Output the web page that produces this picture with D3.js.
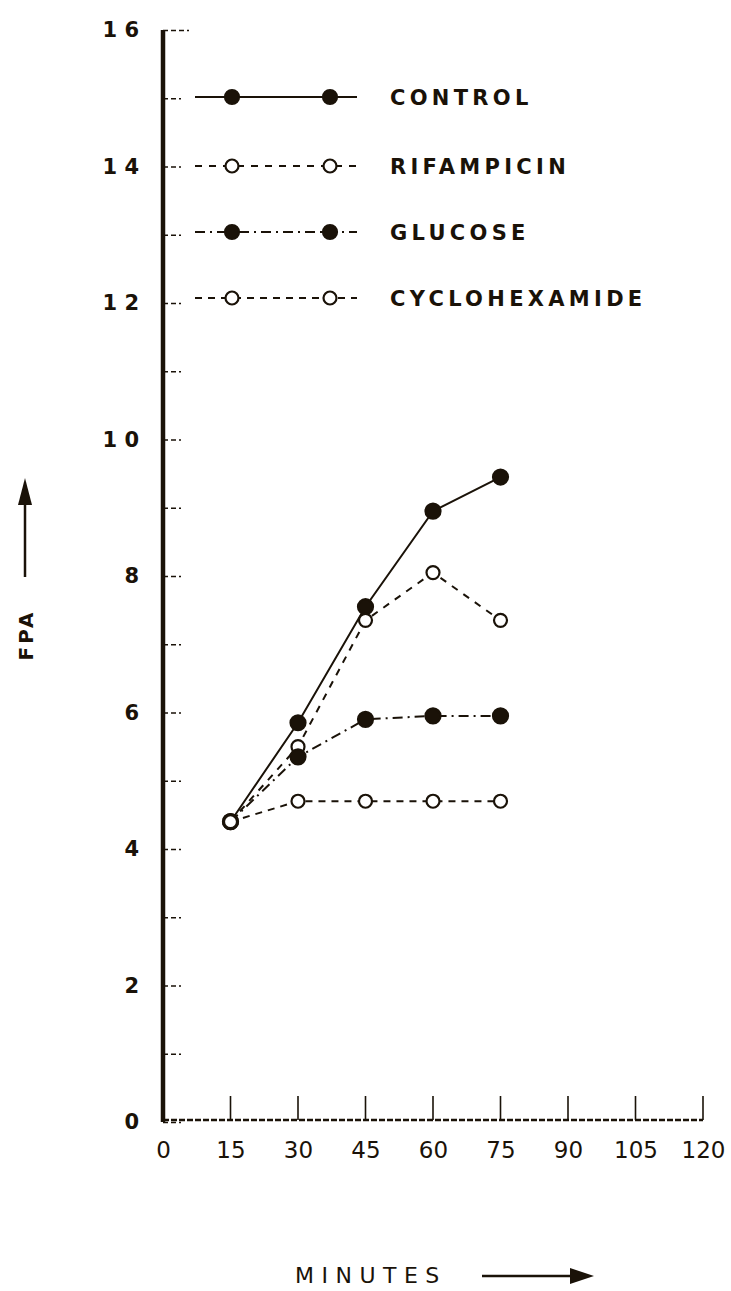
<!DOCTYPE html>
<html>
<head>
<meta charset="utf-8">
<script src="https://cdn.jsdelivr.net/npm/d3@7"></script>
<style>
  body { margin: 0; background: #fff; }
  text { font-family: "DejaVu Sans", sans-serif; fill: #1a1208; }
</style>
</head>
<body>
<div id="chart"></div>
<script>
const minutes = [15, 30, 45, 60, 75];
const control = [4.4, 5.85, 7.55, 8.95, 9.45];
const rifampicin = [4.4, 5.5, 7.35, 8.05, 7.35];
const glucose = [4.4, 5.35, 5.9, 5.95, 5.95];
const cyclohexamide = [4.4, 4.7, 4.7, 4.7, 4.7];

const seriesNames = ["CONTROL", "RIFAMPICIN", "GLUCOSE", "CYCLOHEXAMIDE"];
const xTicks = [0, 15, 30, 45, 60, 75, 90, 105, 120];
const yLabels = [0, 2, 4, 6, 8, 10, 12, 14, 16];

const width = 731;
const height = 1291;
const ink = "#1a1208";

const x = d3.scaleLinear().domain([0, 120]).range([163, 703]);
const y = d3.scaleLinear().domain([0, 16]).range([1122, 30]);

const svg = d3.select("#chart").append("svg")
  .attr("width", width)
  .attr("height", height);

// series styles: filled marker or not, dash pattern
const styles = [
  { filled: true, dash: null },
  { filled: false, dash: "7,7" },
  { filled: true, dash: "10,5,2,5" },
  { filled: false, dash: "7,6" }
];
const values = [control, rifampicin, glucose, cyclohexamide];

// y axis minor + major ticks (short dashes to the right)
const yTickAxis = d3.axisRight(y).tickValues(d3.range(0, 17, 1)).tickSize(18).tickFormat("");
const gy = svg.append("g").attr("transform", `translate(${x(0)},0)`).call(yTickAxis);
gy.select(".domain").remove();
gy.selectAll(".tick line")
  .attr("stroke", ink)
  .attr("stroke-width", 1.5)
  .attr("stroke-dasharray", "5,3")
  .attr("x2", (d) => d === 16 ? 26 : 18);

// y labels
const yLab = d3.axisLeft(y).tickValues(yLabels).tickSize(0).tickPadding(24)
  .tickFormat((d) => String(d).split("").join(" "));
const gyl = svg.append("g").attr("transform", `translate(${x(0)},0)`).call(yLab);
gyl.select(".domain").remove();
gyl.selectAll("text")
  .attr("font-size", 21)
  .attr("font-family", "DejaVu Sans, sans-serif")
  .style("font-weight", "bold")
  .attr("fill", ink);

// x axis baseline (dotted) and ticks upward
svg.append("line")
  .attr("x1", x(0)).attr("x2", x(120))
  .attr("y1", y(0) - 2).attr("y2", y(0) - 2)
  .attr("stroke", ink).attr("stroke-width", 2.5)
  .attr("stroke-dasharray", "6,2");

const xAxis = d3.axisBottom(x).tickValues(xTicks).tickSize(0).tickPadding(20);
const gx = svg.append("g").attr("transform", `translate(0,${y(0)})`).call(xAxis);
gx.select(".domain").remove();
gx.selectAll("text")
  .attr("font-size", 23)
  .attr("font-family", "DejaVu Sans, sans-serif")
  .style("font-weight", "normal")
  .attr("fill", ink);

svg.selectAll(".xtick").data(xTicks.filter((d) => d > 0)).enter()
  .append("line")
  .attr("x1", (d) => x(d)).attr("x2", (d) => x(d))
  .attr("y1", y(0) - 2).attr("y2", y(0) - 26)
  .attr("stroke", ink).attr("stroke-width", 1.6);

// thick y axis line
svg.append("line")
  .attr("x1", x(0)).attr("x2", x(0))
  .attr("y1", y(16)).attr("y2", y(0))
  .attr("stroke", ink).attr("stroke-width", 4.5);

// data lines
const line = d3.line().x((d) => x(d[0])).y((d) => y(d[1]));

values.forEach((vals, i) => {
  const pts = minutes.map((m, j) => [m, vals[j]]);
  svg.append("path")
    .datum(pts)
    .attr("d", line)
    .attr("fill", "none")
    .attr("stroke", ink)
    .attr("stroke-width", 2)
    .attr("stroke-dasharray", styles[i].dash);
  svg.selectAll(null).data(pts).enter()
    .append("circle")
    .attr("cx", (d) => x(d[0]))
    .attr("cy", (d) => y(d[1]))
    .attr("r", styles[i].filled ? 7.5 : 6.5)
    .attr("fill", styles[i].filled ? ink : "#fff")
    .attr("stroke", ink)
    .attr("stroke-width", 2.2);
});

// legend
const legendY = [97, 166, 232, 298];
seriesNames.forEach((name, i) => {
  const ly = legendY[i];
  svg.append("line")
    .attr("x1", 195).attr("x2", 357)
    .attr("y1", ly).attr("y2", ly)
    .attr("stroke", ink).attr("stroke-width", 2)
    .attr("stroke-dasharray", styles[i].dash);
  [232, 330].forEach((cx) => {
    svg.append("circle")
      .attr("cx", cx).attr("cy", ly)
      .attr("r", styles[i].filled ? 7 : 6.5)
      .attr("fill", styles[i].filled ? ink : "#fff")
      .attr("stroke", ink).attr("stroke-width", 2.2);
  });
  svg.append("text")
    .attr("x", 390).attr("y", ly + 8)
    .attr("font-size", 21)
    .attr("letter-spacing", 4.3)
    .style("font-weight", "bold")
    .text(name);
});

// y axis title with arrow
svg.append("text")
  .attr("transform", "translate(33,635) rotate(-90)")
  .attr("text-anchor", "middle")
  .attr("font-size", 20)
  .attr("letter-spacing", 3)
  .style("font-weight", "bold")
  .text("FPA");
svg.append("line")
  .attr("x1", 25).attr("x2", 25)
  .attr("y1", 577).attr("y2", 495)
  .attr("stroke", ink).attr("stroke-width", 2.5);
svg.append("path")
  .attr("d", "M25,478 L18,505 L32,505 Z")
  .attr("fill", ink);

// x axis title with arrow
svg.append("text")
  .attr("x", 295).attr("y", 1283)
  .attr("font-size", 22)
  .attr("letter-spacing", 7.5)
  .text("MINUTES");
svg.append("line")
  .attr("x1", 482).attr("x2", 575)
  .attr("y1", 1276).attr("y2", 1276)
  .attr("stroke", ink).attr("stroke-width", 2.5);
svg.append("path")
  .attr("d", "M594,1276 L570,1268 L570,1284 Z")
  .attr("fill", ink);
</script>
</body>
</html>
